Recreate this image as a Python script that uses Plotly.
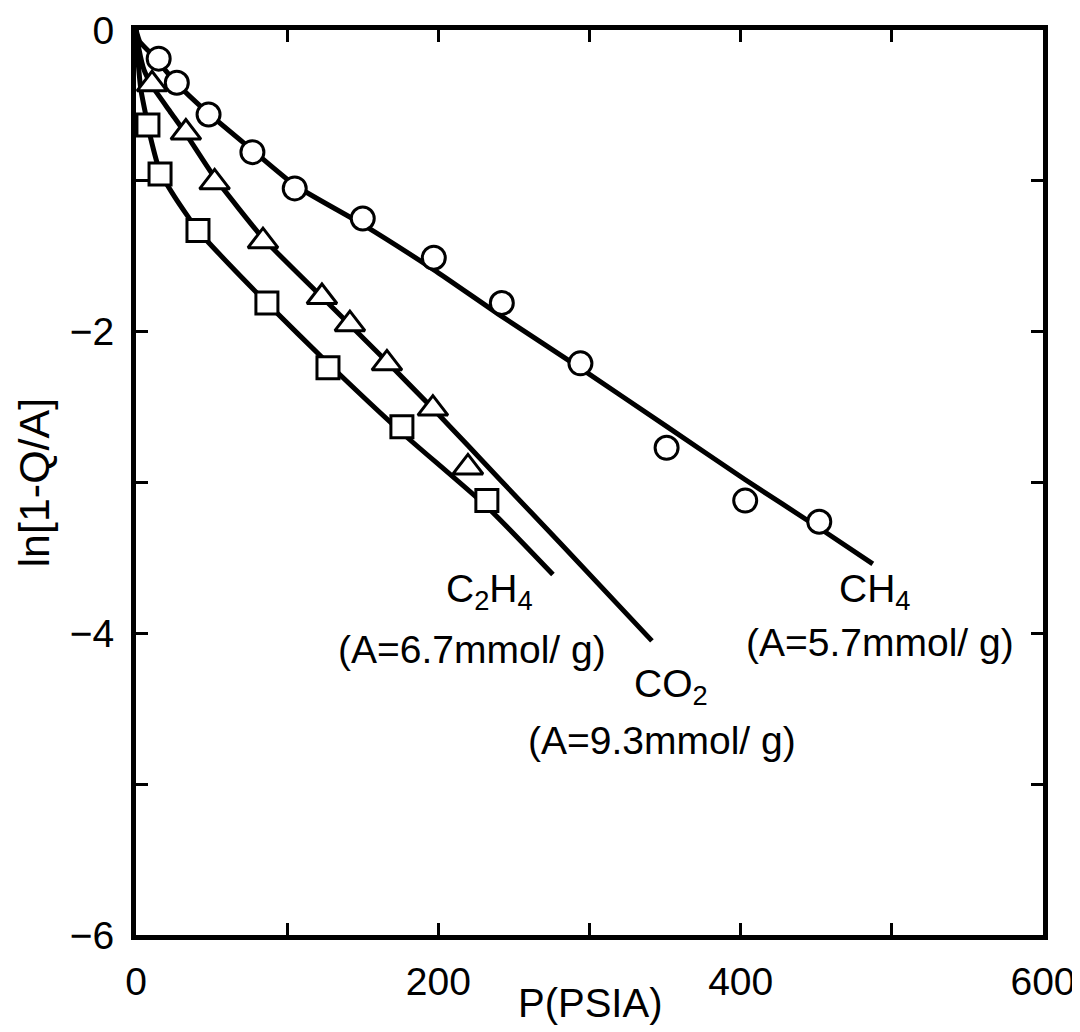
import plotly.graph_objects as go

# ---- data ----
ch4_p = [15, 27, 48, 77, 105, 150, 197, 242, 294, 351, 403, 452]
ch4_y = [-0.19, -0.35, -0.56, -0.81, -1.05, -1.25, -1.51, -1.81, -2.21, -2.77, -3.12, -3.26]

co2_p = [10.6, 33, 52, 84, 123, 141.5, 166, 196.4, 219.6]
co2_y = [-0.36, -0.68, -1.01, -1.40, -1.77, -1.95, -2.21, -2.51, -2.90]

c2h4_p = [7.9, 15.9, 41, 86.6, 127, 175.9, 232.1]
c2h4_y = [-0.63, -0.955, -1.33, -1.81, -2.24, -2.63, -3.12]

# fitted curves
ch4_fit_p = [0, 2.6, 9.3, 14.6, 26.5, 47.6, 77.4, 105.2, 150.1, 197.1, 240.7, 293.7, 351.2, 402.8, 451.7, 487.4]
ch4_fit_y = [0, -0.08, -0.15, -0.21, -0.35, -0.55, -0.80, -1.03, -1.29, -1.59, -1.89, -2.24, -2.63, -2.98, -3.30, -3.54]

co2_fit_p = [0, 2.0, 5.3, 10.6, 22.5, 33.1, 52.2, 84.0, 123.0, 166.0, 196.4, 219.6, 240.7, 280.4, 341.3]
co2_fit_y = [0, -0.13, -0.265, -0.37, -0.54, -0.69, -0.98, -1.38, -1.77, -2.20, -2.51, -2.755, -2.98, -3.40, -4.05]

c2h4_fit_p = [0, 1.3, 3.3, 6.0, 9.3, 15.9, 25.8, 41.0, 62.2, 86.6, 127.0, 175.9, 232.1, 275.8]
c2h4_fit_y = [0, -0.20, -0.40, -0.54, -0.70, -0.94, -1.11, -1.33, -1.56, -1.81, -2.21, -2.67, -3.16, -3.61]

x_tickvals = [0, 200, 400, 600]
x_ticktext = ["0", "200", "400", "600"]
y_tickvals = [0, -2, -4, -6]
y_ticktext = ["0", "−2", "−4", "−6"]

labels = [
    ("C<sub>2</sub>H<sub>4</sub>", 234, -3.72),
    ("(A=6.7mmol/ g)", 222, -4.11),
    ("CO<sub>2</sub>", 354, -4.35),
    ("(A=9.3mmol/ g)", 348, -4.71),
    ("CH<sub>4</sub>", 489, -3.72),
    ("(A=5.7mmol/ g)", 492, -4.06),
]

FONT = "Liberation Sans, Arial, sans-serif"
BLACK = "black"
fig = go.Figure()

line_style = dict(color=BLACK, width=5, shape="spline", smoothing=0.5)
for px_, py_ in [(ch4_fit_p, ch4_fit_y), (co2_fit_p, co2_fit_y), (c2h4_fit_p, c2h4_fit_y)]:
    fig.add_trace(go.Scatter(x=px_, y=py_, mode="lines", line=line_style,
                             showlegend=False, hoverinfo="skip"))

fig.add_trace(go.Scatter(x=ch4_p, y=ch4_y, mode="markers", name="CH4",
                         marker=dict(symbol="circle", size=23, color="white",
                                     line=dict(color=BLACK, width=3))))
fig.add_trace(go.Scatter(x=co2_p, y=co2_y, mode="markers", name="CO2",
                         marker=dict(symbol="triangle-up", size=26, color="white",
                                     line=dict(color=BLACK, width=3))))
fig.add_trace(go.Scatter(x=c2h4_p, y=c2h4_y, mode="markers", name="C2H4",
                         marker=dict(symbol="square", size=22, color="white",
                                     line=dict(color=BLACK, width=3))))

for txt, x, y in labels:
    fig.add_annotation(x=x, y=y, text=txt, showarrow=False,
                       font=dict(family=FONT, size=39, color=BLACK))

# axis titles
fig.add_annotation(xref="paper", yref="paper", x=0.5, y=0, yshift=-68,
                   xanchor="center", yanchor="middle",
                   text="P(PSIA)", showarrow=False,
                   font=dict(family=FONT, size=40, color=BLACK))
fig.add_annotation(xref="paper", yref="paper", x=0, y=0.5, xshift=-103,
                   xanchor="center", yanchor="middle",
                   text="ln[1-Q/A]", textangle=-90, showarrow=False,
                   font=dict(family=FONT, size=43, color=BLACK))

minor_x = dict(dtick=100, tick0=0, ticks="inside", ticklen=12, tickwidth=3, tickcolor=BLACK, showgrid=False)
minor_y = dict(dtick=1, tick0=0, ticks="inside", ticklen=12, tickwidth=3, tickcolor=BLACK, showgrid=False)

fig.update_xaxes(range=[0, 600], tickmode="array", tickvals=x_tickvals, ticktext=x_ticktext,
                 ticks="inside", ticklen=12, tickwidth=3, tickcolor=BLACK, minor=minor_x,
                 showline=True, linewidth=5, linecolor=BLACK, mirror="ticks",
                 showgrid=False, zeroline=False, automargin=False, ticklabelstandoff=8,
                 tickfont=dict(family=FONT, size=39, color=BLACK))
fig.update_yaxes(range=[-6, 0], tickmode="array", tickvals=y_tickvals, ticktext=y_ticktext,
                 ticks="inside", ticklen=12, tickwidth=3, tickcolor=BLACK, minor=minor_y,
                 showline=True, linewidth=5, linecolor=BLACK, mirror="ticks",
                 showgrid=False, zeroline=False, automargin=False, ticklabelstandoff=9,
                 tickfont=dict(family=FONT, size=39, color=BLACK))

# page body adds an 8px margin, so the figure is sized to fit the window
fig.update_layout(width=1072, height=1024, plot_bgcolor="white", paper_bgcolor="white",
                  showlegend=False,
                  margin=dict(l=128, r=37, t=22, b=97, autoexpand=False))

fig.write_html("out.html")
